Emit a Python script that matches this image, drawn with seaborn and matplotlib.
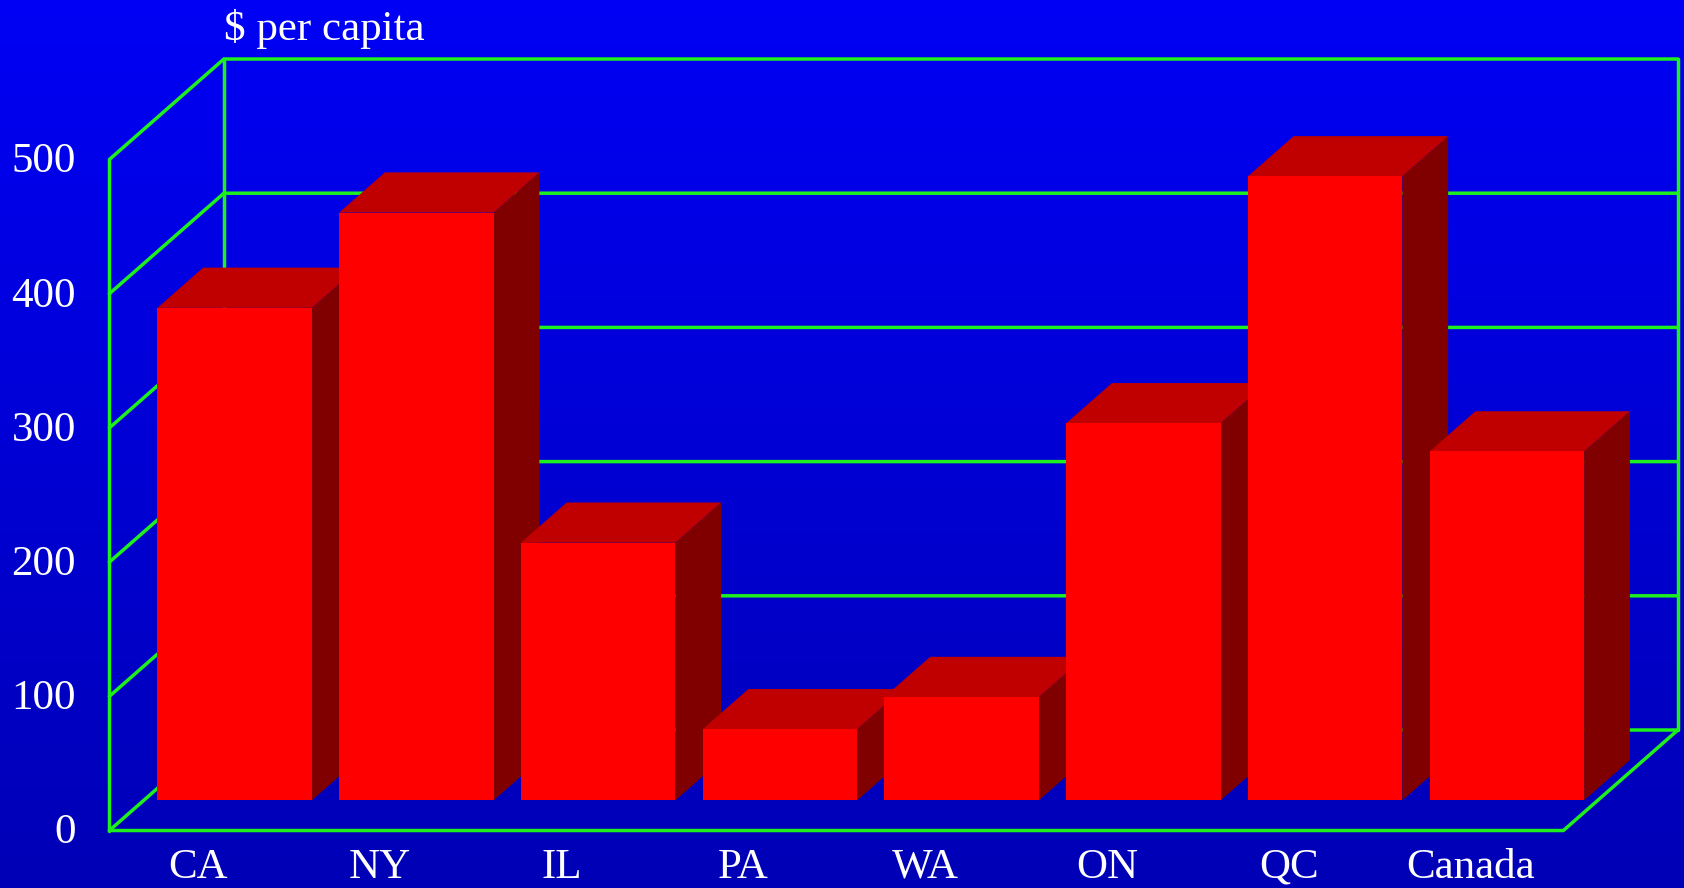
import numpy as np
import matplotlib.pyplot as plt
import seaborn as sns
from matplotlib.patches import Polygon

# data
categories = ["CA", "NY", "IL", "PA", "WA", "ON", "QC", "Canada"]
values = [367, 438, 192, 53, 77, 281, 465, 260]
y_ticks = [0, 100, 200, 300, 400, 500]
unit_label = r"\$ per capita"

sns.set_style("white")
plt.rcParams['font.family'] = ['Liberation Serif', 'DejaVu Serif']

# 3d look: depth vector in data units (categories, value)
DX, DY = 0.63, 74.9
BAR_FRONT = 0.3   # bars sit at depth 0.3 .. 0.7
BAR_DEPTH = 0.4
GREEN = '#1ef01e'
LW = 2.5
FS = 31

def at(x, v, d):
    # project a point at depth d onto the bar front plane
    return x + (d - BAR_FRONT) * DX, v + (d - BAR_FRONT) * DY

fig = plt.figure(figsize=(16.84, 8.88), dpi=100)
ax = fig.add_axes([0, 0, 1, 1])

xlim = (-1.2908, 7.9747)
ylim = (-65.3, 596.4)

# background gradient
top_b, bot_b = 245 / 255, 182 / 255
col = np.linspace(top_b, bot_b, 256)
grad = np.zeros((256, 1, 3))
grad[:, 0, 2] = col
ax.imshow(grad, extent=[xlim[0], xlim[1], ylim[0], ylim[1]], aspect='auto',
          origin='upper', zorder=0)

x_left, x_right = -0.5, len(categories) - 0.5
vmax = y_ticks[-1]

# left wall + back wall grid
for v in y_ticks:
    p0 = at(x_left, v, 0)
    p1 = at(x_left, v, 1)
    p2 = at(x_right, v, 1)
    ax.plot([p0[0], p1[0], p2[0]], [p0[1], p1[1], p2[1]], color=GREEN, lw=LW, zorder=1,
            solid_joinstyle='miter')

for x, d in [(x_left, 0), (x_left, 1), (x_right, 1)]:
    a = at(x, 0, d)
    b = at(x, vmax, d)
    ax.plot([a[0], b[0]], [a[1], b[1]], color=GREEN, lw=LW, zorder=1)

# floor front edge and right edge
f0 = at(x_left, 0, 0)
f1 = at(x_right, 0, 0)
f2 = at(x_right, 0, 1)
ax.plot([f0[0], f1[0], f2[0]], [f0[1], f1[1], f2[1]], color=GREEN, lw=LW, zorder=1,
        solid_joinstyle='miter')

# front faces of the bars
sns.barplot(x=categories, y=values, color='#ff0000', saturation=1, width=0.85,
            linewidth=0, errorbar=None, ax=ax)

ddx, ddy = BAR_DEPTH * DX, BAR_DEPTH * DY
for i, p in enumerate(ax.patches):
    x0, w, h = p.get_x(), p.get_width(), p.get_height()
    side = Polygon([(x0 + w, 0), (x0 + w + ddx, ddy), (x0 + w + ddx, h + ddy), (x0 + w, h)],
                   closed=True, facecolor='#800000', edgecolor='none', zorder=10 + 3 * i)
    top = Polygon([(x0, h), (x0 + w, h), (x0 + w + ddx, h + ddy), (x0 + ddx, h + ddy)],
                  closed=True, facecolor='#c00000', edgecolor='none', zorder=11 + 3 * i)
    ax.add_patch(side)
    ax.add_patch(top)
    p.set_zorder(12 + 3 * i)

# tick labels along the front left edge
for v in y_ticks:
    tx, ty = at(x_left, v, 0)
    ax.text(tx - 0.185, ty - 2, str(v), ha='right', va='center', color='white', fontsize=FS)

# category labels under the front edge
for i, c in enumerate(categories):
    tx, _ = at(i, 0, 0)
    ax.text(tx - 0.01, -50, c, ha='center', va='center', color='white', fontsize=FS)

bx, _ = at(x_left, 0, 1)
ax.text(bx, 575, unit_label, ha='left', va='center', color='white', fontsize=FS)

ax.set_xlim(*xlim)
ax.set_ylim(*ylim)
ax.axis('off')

plt.savefig('out.png', dpi=100)
